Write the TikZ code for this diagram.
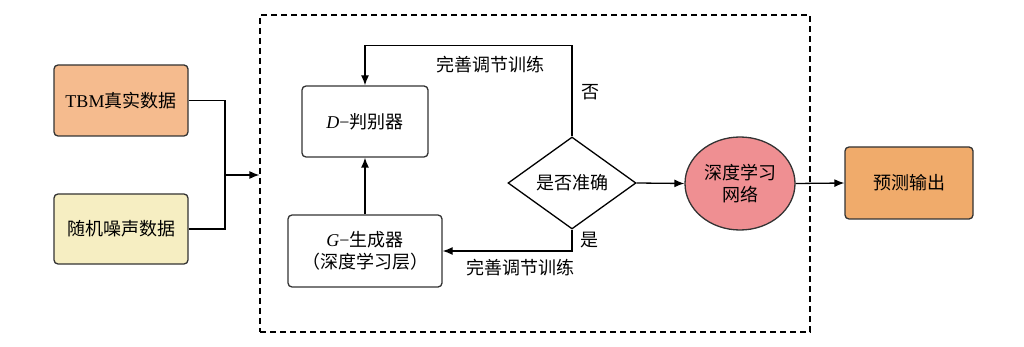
\documentclass[tikz,border=0pt]{standalone}
\usepackage{fontspec}
\setmainfont{Liberation Serif}
\newfontfamily\cjk{Noto Sans CJK SC}
\usetikzlibrary{arrows.meta,shapes.geometric}
\definecolor{tbmfill}{HTML}{F5BB8E}
\definecolor{noisefill}{HTML}{F6EEC2}
\definecolor{ellfill}{HTML}{EF8F92}
\definecolor{outfill}{HTML}{F0AB6B}
\definecolor{edge}{HTML}{333333}
\begin{document}
\begin{tikzpicture}[x=1pt,y=-1pt,
  every node/.style={font=\fontsize{18}{22}\selectfont},
  rbox/.style={draw=edge,line width=1.3pt,rounded corners=4pt,align=center,inner sep=0pt},
  conn/.style={draw=black,line width=1.3pt},
  arr/.style={conn,-{Latex[length=10pt,width=8pt]}},
  lbl/.style={inner sep=0pt}]
\useasboundingbox (0,0) rectangle (1024,347);
\node[draw=black,dash pattern=on 6pt off 4pt,line width=1.2pt,minimum width=550pt,minimum height=317pt,inner sep=0pt] (frame) at (535,173.5) {};
\node[rbox,fill=tbmfill,minimum width=134pt,minimum height=71pt] (tbm) at (121,100.5) {TBM{\cjk 真实数据}};
\node[rbox,fill=noisefill,minimum width=134pt,minimum height=70pt] (noise) at (121,229) {\cjk 随机噪声数据};
\node[rbox,fill=white,minimum width=126pt,minimum height=71pt] (D) at (365,121.5) {\textit{D}−{\cjk 判别器}};
\node[rbox,fill=white,minimum width=154pt,minimum height=72pt] (G) at (365,251) {\textit{G}−{\cjk 生成器}\\{\cjk （深度学习层）}};
\node[draw=black,line width=1.3pt,shape=diamond,minimum width=128pt,minimum height=92pt,inner sep=0pt] (dia) at (572,183) {\cjk 是否准确};
\node[draw=edge,line width=1.3pt,fill=ellfill,shape=ellipse,minimum width=110pt,minimum height=93pt,inner sep=0pt,align=center] (ell) at (740,183.5) {\cjk 深度学习\\\cjk 网络};
\node[rbox,fill=outfill,minimum width=128pt,minimum height=72pt] (out) at (909,183) {\cjk 预测输出};
\coordinate (j) at (225,175);
\draw[conn] (tbm.east) -| (j);
\draw[conn] (noise.east) -| (j);
\draw[arr] (j) -- (frame.west |- j);
\draw[arr] (dia.north) |- ([yshift=40pt]D.north) -- (D.north);
\draw[arr] (dia.south) |- (G.east);
\draw[arr] (G.north) -- (D.south);
\draw[arr] (dia.east) -- (ell.west);
\draw[arr] (ell.east) -- (out.west);
\node[lbl] (t1) at (490,65) {\cjk 完善调节训练};
\node[lbl] (no) at (590,92) {\cjk 否};
\node[lbl] (yes) at (589,240) {\cjk 是};
\node[lbl] (t2) at (520,268) {\cjk 完善调节训练};
\end{tikzpicture}
\end{document}
